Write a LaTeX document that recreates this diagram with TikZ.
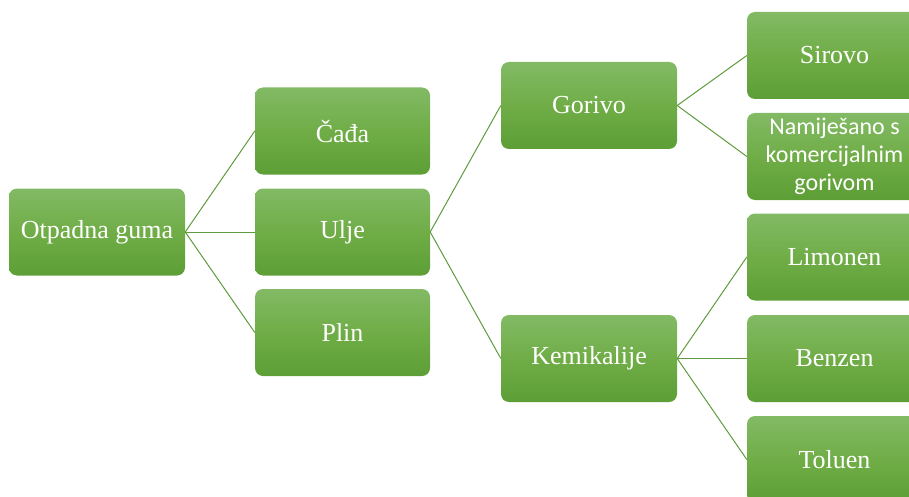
\documentclass[tikz,border=0pt]{standalone}
\usepackage{fontspec}
\setmainfont{Liberation Serif}
\newfontfamily\calib{Carlito}
\definecolor{gTop}{HTML}{82BA65}
\definecolor{gMid}{HTML}{70AD47}
\definecolor{gBot}{HTML}{5D9E36}
\definecolor{lineG}{HTML}{5E9B3D}
\begin{document}
\begin{tikzpicture}[x=1pt,y=-1pt,
  box/.style={rectangle, rounded corners=8pt, minimum width=175pt, minimum height=87pt,
    top color=gTop, bottom color=gBot, middle color=gMid, text=white, inner sep=2pt,
    font=\fontsize{26}{30}\selectfont, align=center},
  sbox/.style={box, font=\calib\fontsize{24}{28}\selectfont},
  link/.style={draw=lineG, line width=1pt}]
\useasboundingbox (0,0) rectangle (909,497);
\clip (0,0) rectangle (909,497);
\node[box, minimum width=176pt] (og) at (97,232) {Otpadna guma};
\node[box] (cada) at (342.5,131) {Čađa};
\node[box] (ulje) at (342.5,232) {Ulje};
\node[box] (plin) at (342.5,332.5) {Plin};
\node[box, minimum width=176pt] (gorivo) at (589,105.5) {Gorivo};
\node[box, minimum width=176pt] (kemi) at (589,358.5) {Kemikalije};
\node[box] (sirovo) at (834.5,55.5) {Sirovo};
\node[sbox] (nam) at (834.5,156.5) {Namiješano s\\komercijalnim\\gorivom};
\node[box] (limonen) at (834.5,257) {Limonen};
\node[box] (benzen) at (834.5,358.5) {Benzen};
\node[box] (toluen) at (834.5,459.5) {Toluen};
\draw[link] (og.east) -- (cada.west);
\draw[link] (og.east) -- (ulje.west);
\draw[link] (og.east) -- (plin.west);
\draw[link] (ulje.east) -- (gorivo.west);
\draw[link] (ulje.east) -- (kemi.west);
\draw[link] (gorivo.east) -- (sirovo.west);
\draw[link] (gorivo.east) -- (nam.west);
\draw[link] (kemi.east) -- (limonen.west);
\draw[link] (kemi.east) -- (benzen.west);
\draw[link] (kemi.east) -- (toluen.west);
\end{tikzpicture}
\end{document}
